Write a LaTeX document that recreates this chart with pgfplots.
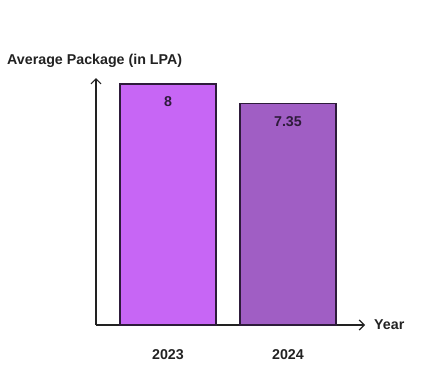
\documentclass[border=0pt]{standalone}
\usepackage{pgfplots}
\pgfplotsset{compat=1.18}
\usepackage{fontspec}
\setmainfont{Liberation Sans}
\usetikzlibrary{arrows.meta}
\definecolor{barA}{HTML}{C766F5}
\definecolor{barB}{HTML}{A05EC4}
\definecolor{edge}{HTML}{2E1B3B}
\definecolor{axc}{HTML}{222222}
\newcommand{\lf}{\bfseries\fontsize{14.3}{16}\selectfont}
\begin{document}
\begin{tikzpicture}
\path[use as bounding box] (0,0) rectangle (432bp,366bp);
\begin{axis}[
  at={(96bp,41bp)}, anchor=south west,
  scale only axis, width=269bp, height=247bp,
  xmin=-0.6, xmax=1.642, ymin=0, ymax=8.2,
  axis x line=bottom, axis y line=left,
  axis line style={axc, line width=1.2pt, -{Straight Barb[length=5bp,width=10bp,line width=1.2pt]}},
  ytick=\empty,
  xtick={0,1}, xticklabels={2023,2024},
  major tick length=0pt,
  /pgf/number format/assume math mode=true,
  xticklabel style={font=\lf, color=axc, yshift=-21bp},
  ybar, bar width=96bp, bar shift=0pt,
  clip=false,
  nodes near coords,
  nodes near coords style={anchor=north, yshift=-9bp, font=\lf, color=edge},
]
\addplot[fill=barA, draw=edge, line width=1.2pt] coordinates {(0,8)};
\addplot[fill=barB, draw=edge, line width=1.2pt] coordinates {(1,7.35)};
\end{axis}
\node[anchor=west, font=\lf, color=axc, inner sep=0pt] at (7bp,305bp) {Average Package (in LPA)};
\node[anchor=west, font=\lf, color=axc, inner sep=0pt] at (374bp,41bp) {Year};
\end{tikzpicture}
\end{document}
